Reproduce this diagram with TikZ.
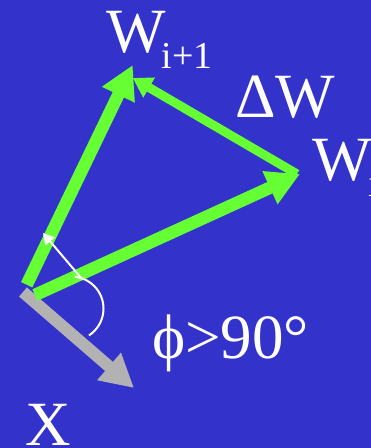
\documentclass[tikz,border=0pt]{standalone}
\usepackage{fontspec}
\setmainfont{Liberation Serif}
\usetikzlibrary{arrows.meta}
\definecolor{bgblue}{RGB}{51,51,204}
\definecolor{vgreen}{RGB}{102,255,51}
\definecolor{vgray}{RGB}{178,178,178}
\tikzset{
  vec/.style={draw=vgreen, line width=12.5pt, -{Triangle[length=33pt,width=34pt]}},
  dvec/.style={draw=vgreen, line width=9pt, -{Triangle[length=19pt,width=22pt]}},
  xvec/.style={draw=vgray, line width=12pt, -{Triangle[length=33pt,width=34pt]}},
  thin/.style={draw=white, line width=2pt},
  lbl/.style={text=white, inner sep=0pt, anchor=base west, font=\fontsize{63}{63}\selectfont},
}
\newcommand{\subtext}[2][-4pt]{\kern#1\raisebox{-16pt}{\fontsize{38}{38}\selectfont #2}}
\begin{document}
\begin{tikzpicture}[x=1pt,y=1pt]
\useasboundingbox (0,0) rectangle (371,-448);
\fill[bgblue] (0,0) rectangle (371,-448);
\clip (0,0) rectangle (371,-448);
% points
\coordinate (o1) at (26.7,-284.7);
\coordinate (wip1) at (132.7,-65);
\coordinate (o2) at (35,-295);
\coordinate (wi) at (300,-174);
\coordinate (dws) at (297,-174);
\coordinate (dwe) at (132.7,-78);
\coordinate (o3) at (23,-292);
\coordinate (xt) at (134,-388);
\coordinate (ws) at (82,-279);
\coordinate (wt) at (43,-233);
\coordinate (ac) at (71.5,-308.6);
% vectors
\draw[xvec] (o3) -- (xt);
\draw[vec] (o1) -- (wip1);
\draw[vec] (o2) -- (wi);
\draw[dvec] (dws) -- (dwe);
\draw[thin, -{Triangle[length=11pt,width=12pt]}] (ws) -- (wt);
\draw[thin] (ac) ++(84:32) arc[start angle=84, end angle=-57, radius=32];
% labels
\node[lbl] (lwip1) at (106,-52) {W\subtext{i+1}};
\node[lbl] (ldw) at (235,-117) {ΔW};
\node[lbl] (lwi) at (312,-180) {W\subtext[-3pt]{i}};
\node[lbl] (lphi) at (152,-358) {ϕ>90°};
\node[lbl] (lx) at (25,-445) {X};
\end{tikzpicture}
\end{document}
